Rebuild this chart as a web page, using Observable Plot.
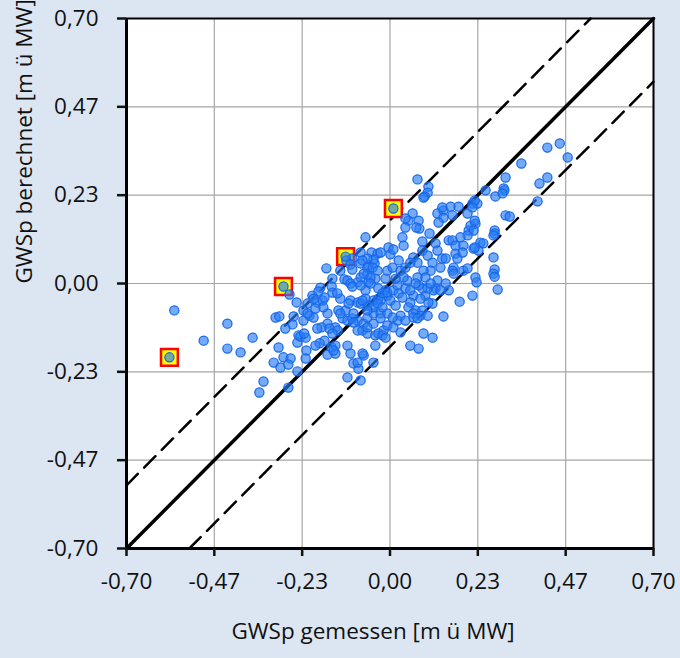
<!DOCTYPE html>
<html><head><meta charset="utf-8">
<script src="https://cdn.jsdelivr.net/npm/d3@7"></script>
<script src="https://cdn.jsdelivr.net/npm/@observablehq/plot@0.6"></script>
<style>
html,body{margin:0;padding:0;background:#dce6f2;}
</style></head><body><div id="chart"></div>
<script>
const achse = [-0.70, 0.70];
const tickWerte = [-0.70, -0.4667, -0.2333, 0, 0.2333, 0.4667, 0.70];
const toleranz = 0.167;
const xTitel = "GWSp gemessen [m ü MW]";
const yTitel = "GWSp berechnet [m ü MW]";
const markiert = [[-0.586,-0.195],[-0.283,-0.008],[-0.118,0.071],[0.009,0.198]];
const punkte = [
[-0.573,-0.071],[-0.432,-0.106],[-0.495,-0.151],[-0.432,-0.172],[-0.397,-0.182],[-0.365,-0.143],
[-0.304,-0.090],[-0.294,-0.087],[-0.267,-0.029],[-0.248,-0.050],[-0.256,-0.087],[-0.259,-0.108],
[-0.278,-0.119],[-0.243,-0.137],[-0.246,-0.156],[-0.296,-0.169],[-0.309,-0.209],[-0.283,-0.195],
[-0.264,-0.198],[-0.291,-0.222],[-0.270,-0.214],[-0.246,-0.232],[-0.336,-0.259],[-0.347,-0.288],
[-0.270,-0.275],[-0.169,0.040],[-0.153,0.013],[-0.155,-0.008],[-0.185,-0.011],[-0.153,-0.024],
[-0.206,-0.032],[-0.193,-0.050],[-0.179,-0.045],[-0.174,-0.037],[-0.219,-0.053],[-0.230,-0.071],
[-0.214,-0.085],[-0.203,-0.090],[-0.166,-0.079],[-0.137,-0.071],[-0.118,-0.071],[-0.126,-0.092],
[-0.145,-0.116],[-0.166,-0.106],[-0.182,-0.116],[-0.193,-0.119],[-0.230,-0.098],[-0.238,-0.140],
[-0.224,-0.143],[-0.174,-0.151],[-0.187,-0.158],[-0.198,-0.164],[-0.155,-0.169],[-0.145,-0.185],
[-0.166,-0.188],[-0.222,-0.177],[-0.224,-0.198],[-0.132,-0.040],[-0.203,-0.040],[-0.198,-0.066],
[-0.177,-0.063],[-0.219,-0.079],[-0.161,-0.119],[-0.139,-0.124],[-0.153,-0.132],[-0.228,-0.132],
[-0.145,-0.164],[-0.150,-0.177],[-0.190,-0.021],[-0.140,-0.026],[-0.132,0.034],[-0.121,0.011],
[-0.116,0.061],[-0.100,0.066],[-0.105,0.050],[-0.065,0.122],[-0.078,0.082],[-0.049,0.082],
[-0.033,0.079],[-0.100,0.037],[-0.078,0.053],[-0.057,0.048],[-0.041,0.053],[-0.113,0.008],
[-0.105,0.000],[-0.078,0.016],[-0.060,0.026],[-0.057,0.003],[-0.086,0.003],[-0.105,-0.045],
[-0.086,-0.050],[-0.113,-0.098],[-0.100,-0.092],[-0.086,-0.098],[-0.113,-0.164],[-0.105,-0.185],
[-0.097,-0.211],[-0.084,-0.225],[-0.078,-0.256],[-0.113,-0.248],[-0.070,-0.190],[-0.039,-0.164],
[-0.044,-0.209],[-0.086,-0.209],[-0.025,0.082],[-0.044,0.063],[-0.060,0.066],[-0.073,0.061],
[-0.060,0.042],[-0.046,0.042],[-0.033,0.034],[-0.039,0.013],[-0.052,0.016],[-0.070,0.026],
[-0.065,-0.018],[-0.100,-0.008],[-0.078,-0.005],[-0.052,0.000],[-0.031,-0.013],[-0.012,-0.018],
[-0.110,-0.053],[-0.078,-0.053],[-0.060,-0.058],[-0.044,-0.045],[-0.031,-0.040],[-0.007,-0.032],
[-0.132,-0.079],[-0.097,-0.079],[-0.070,-0.106],[-0.060,-0.090],[-0.044,-0.079],[-0.046,-0.063],
[-0.025,-0.079],[-0.007,-0.079],[-0.097,-0.103],[-0.086,-0.124],[-0.073,-0.124],[-0.060,-0.132],
[-0.039,-0.137],[-0.031,-0.132],[-0.017,-0.124],[-0.060,-0.071],[-0.065,-0.040],[-0.073,-0.045],
[-0.025,-0.045],[-0.033,-0.053],[-0.020,-0.063],[-0.020,-0.026],[-0.007,-0.024],[-0.007,-0.111],
[-0.025,-0.092],[-0.044,-0.106],[-0.060,-0.116],[-0.020,-0.137],[-0.012,-0.143],[-0.073,-0.185],
[-0.012,0.013],[-0.007,0.034],[-0.004,0.095],[0.001,0.077],[0.073,0.275],[0.102,0.256],
[0.100,0.240],[0.092,0.230],[0.089,0.227],[0.060,0.185],[0.049,0.166],[0.041,0.148],
[0.076,0.166],[0.078,0.145],[0.105,0.132],[0.126,0.185],[0.033,0.122],[0.036,0.100],
[0.009,0.090],[0.086,0.111],[0.086,0.087],[0.062,0.069],[0.073,0.055],[0.100,0.074],
[0.113,0.055],[0.121,0.106],[0.126,0.087],[0.126,0.008],[0.121,-0.013],[0.116,-0.018],
[0.113,-0.053],[0.102,-0.050],[0.094,-0.032],[0.100,-0.013],[0.086,-0.013],[0.108,0.000],
[0.108,0.034],[0.089,0.034],[0.094,0.016],[0.073,0.016],[0.076,-0.005],[0.068,0.000],
[0.062,-0.032],[0.054,-0.050],[0.049,-0.063],[0.068,-0.071],[0.086,-0.071],[0.081,-0.085],
[0.062,-0.079],[0.062,-0.090],[0.073,-0.092],[0.089,-0.132],[0.113,-0.143],[0.054,-0.164],
[0.076,-0.172],[0.028,-0.085],[0.020,-0.098],[0.007,-0.090],[0.009,-0.116],[0.028,-0.129],
[0.009,-0.018],[0.020,-0.005],[0.023,-0.026],[0.033,-0.037],[0.041,-0.013],[0.046,0.008],
[0.036,0.016],[0.007,0.042],[0.028,0.034],[0.041,0.042],[0.070,0.148],[0.041,0.172],
[0.023,0.061],[0.054,0.055],[0.015,0.013],[0.001,-0.045],[0.015,-0.058],[0.041,-0.098],
[0.081,-0.040],[0.054,-0.018],[0.100,-0.085],[0.142,0.193],[0.139,0.201],[0.161,0.203],
[0.182,0.203],[0.166,0.180],[0.142,0.174],[0.129,0.161],[0.206,0.185],[0.219,0.211],
[0.232,0.211],[0.227,0.158],[0.209,0.140],[0.214,0.153],[0.222,0.140],[0.206,0.127],
[0.254,0.246],[0.139,0.066],[0.134,0.042],[0.148,0.066],[0.156,0.114],[0.166,0.114],
[0.174,0.100],[0.174,0.079],[0.179,0.066],[0.169,0.042],[0.166,0.034],[0.195,0.100],
[0.193,0.082],[0.222,0.092],[0.235,0.087],[0.240,0.108],[0.195,0.034],[0.206,0.040],
[0.227,0.016],[0.230,0.003],[0.156,-0.018],[0.148,0.000],[0.134,-0.018],[0.219,-0.032],
[0.185,-0.048],[0.142,-0.087],[0.225,0.219],[0.219,0.201],[0.225,0.166],[0.248,0.106],
[0.225,0.095],[0.278,0.140],[0.278,0.132],[0.275,0.127],[0.275,0.069],[0.278,0.037],
[0.275,0.026],[0.278,0.018],[0.286,-0.016],[0.280,0.230],[0.187,0.122],[0.169,0.026],
[0.451,0.370],[0.418,0.359],[0.472,0.333],[0.349,0.317],[0.418,0.280],[0.397,0.264],
[0.307,0.280],[0.302,0.251],[0.304,0.246],[0.299,0.238],[0.392,0.217],[0.307,0.180],
[0.318,0.177],
[-0.586,-0.195],[-0.283,-0.008],[-0.118,0.071],[0.009,0.198]
];

const fmt = d => (Math.abs(d) < 1e-9 ? 0 : d).toFixed(2).replace(".", ",");
const [lo, hi] = achse;
const diag = [[lo, lo], [hi, hi]];
const oben = [[lo, lo + toleranz], [hi - toleranz, hi]];
const unten = [[lo + toleranz, lo], [hi, hi - toleranz]];
const X = d => d[0], Y = d => d[1];

const chart = Plot.plot({
  width: 680, height: 658,
  marginLeft: 126, marginRight: 27, marginTop: 18, marginBottom: 110,
  style: {background: "#dce6f2", fontFamily: "'Open Sans', sans-serif", fontSize: "22.5px", color: "#111"},
  x: {domain: achse, axis: null},
  y: {domain: achse, axis: null},
  marks: [
    Plot.frame({fill: "white"}),
    Plot.gridX(tickWerte, {stroke: "#a6a6a6", strokeOpacity: 1, strokeWidth: 1.2}),
    Plot.gridY(tickWerte, {stroke: "#a6a6a6", strokeOpacity: 1, strokeWidth: 1.2}),
    Plot.line(diag, {x: X, y: Y, stroke: "black", strokeWidth: 3.5}),
    Plot.line(oben, {x: X, y: Y, stroke: "black", strokeWidth: 2.5, strokeDasharray: "16,9"}),
    Plot.line(unten, {x: X, y: Y, stroke: "black", strokeWidth: 2.5, strokeDasharray: "16,9"}),
    Plot.dot(markiert, {x: X, y: Y, symbol: "square", r: 9.5, fill: "#ffff00", stroke: "#ff0000", strokeWidth: 2.5}),
    Plot.dot(punkte, {x: X, y: Y, r: 4.6, fill: "#2a7cf5", fillOpacity: 0.65, stroke: "#1566ea", strokeWidth: 1.2}),
    Plot.frame({stroke: "black", strokeWidth: 2}),
    Plot.ruleX([lo], {stroke: "black", strokeWidth: 3}),
    Plot.ruleY([lo], {stroke: "black", strokeWidth: 3}),
    Plot.axisX(tickWerte, {tickSize: 8, tickPadding: 17, tickFormat: fmt, strokeWidth: 2.5, label: null}),
    Plot.axisY(tickWerte, {tickSize: 9, tickPadding: 19, tickFormat: fmt, strokeWidth: 2.5, label: null}),
    Plot.text([xTitel], {text: d => d, frameAnchor: "bottom", dx: -17, dy: 90}),
    Plot.text([yTitel], {text: d => d, frameAnchor: "left", rotate: -90, dx: -102})
  ]
});
document.getElementById("chart").appendChild(chart);
</script></body></html>
